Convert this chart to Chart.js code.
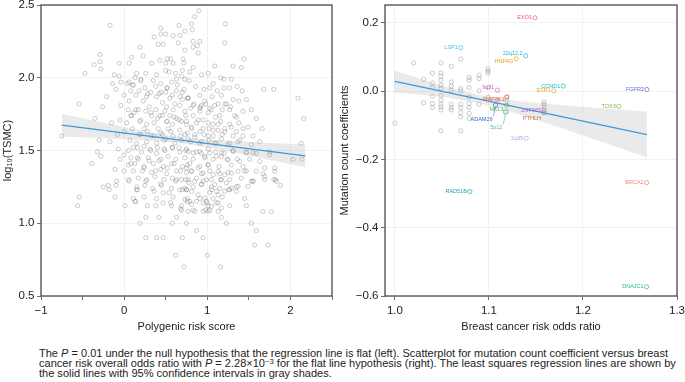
<!DOCTYPE html>
<html>
<head>
<meta charset="utf-8">
<script src="https://cdn.jsdelivr.net/npm/chart.js@4.4.0/dist/chart.umd.min.js"></script>
<style>
  body { margin: 0; background: #fff; width: 685px; height: 382px; overflow: hidden; position: relative;
         font-family: "Liberation Sans", Arial, sans-serif; }
  #left { position: absolute; left: 0; top: 0; width: 340px; height: 334px; }
  #right { position: absolute; left: 337px; top: 0; width: 348px; height: 334px; }
  #caption { position: absolute; left: 39px; top: 348.5px; font-size: 10px; line-height: 10px;
             color: #222; white-space: nowrap; transform-origin: 0 0; }
  #caption sup { font-size: 7px; line-height: 0; vertical-align: 3px; }
</style>
</head>
<body>
<div id="left"><canvas id="prsChart"></canvas></div>
<div id="right"><canvas id="orChart"></canvas></div>
<div id="caption"><span id="capLine1">The <i>P</i> = 0.01 under the null hypothesis that the regression line is flat (left). Scatterplot for mutation count coefficient versus breast</span><br>cancer risk overall odds ratio with <i>P</i> = 2.28×10<sup>−3</sup> for the flat line hypothesis (right). The least squares regression lines are shown by<br>the solid lines with 95% confidence intervals in gray shades.</div>
<script>
// left panel: polygenic risk score vs log10(TSMC), one pair per patient
const prsVsTsmc = [
  [0.90,2.46],[-0.17,2.36],[0.85,2.42],[1.22,2.37],[0.66,2.36],[0.81,2.37],[0.44,2.34],[0.82,2.33],[0.73,2.32],[0.50,2.30],
  [0.44,2.30],[0.36,2.28],[0.59,2.29],[0.67,2.29],[0.91,2.25],[0.83,2.25],[0.65,2.24],[1.21,2.24],[0.41,2.23],[0.47,2.23],
  [0.19,2.21],[0.88,2.22],[0.83,2.21],[0.73,2.19],[-0.29,2.16],[0.23,2.15],[0.89,2.17],[0.52,2.13],[0.56,2.13],[0.09,2.14],
  [1.44,2.13],[0.71,2.13],[0.43,2.12],
  [-0.36,2.09],[-0.29,2.11],[-0.06,2.10],[0.06,2.10],[0.33,2.10],[0.50,2.10],[0.59,2.10],[0.72,2.10],[1.09,2.08],[1.31,2.08],
  [1.41,2.07],[-0.28,2.06],[-0.47,2.03],[0.83,2.07],[0.50,2.05],[0.54,2.04],[0.62,2.03],[0.70,2.05],[1.01,2.03],[-0.12,2.02],
  [-0.06,2.01],[0.26,2.03],[0.39,2.02],[0.79,2.04],[0.93,2.02],[1.16,2.00],[1.20,1.99],[1.29,1.99],[0.13,2.00],[0.15,2.03],
  [0.69,2.01],[0.73,1.99],[0.63,1.99],[0.35,1.98],
  [-0.14,1.96],[-0.04,1.97],[0.06,1.97],[0.11,1.95],[0.20,1.99],[0.25,1.93],[0.44,1.96],[0.51,1.93],[0.57,1.97],[0.78,1.98],
  [0.86,1.94],[1.07,1.96],[1.20,1.93],[1.27,1.93],[1.36,1.94],[1.42,1.91],[1.68,1.92],[1.80,1.92],[-0.10,1.92],[0.08,1.91],
  [0.18,1.91],[0.32,1.90],[0.42,1.89],[0.50,1.90],[0.63,1.91],[0.72,1.92],[0.96,1.92],[1.03,1.93],[1.12,1.91],[-0.21,1.87],
  [0.00,1.88],[0.14,1.88],[0.27,1.87],[0.39,1.87],[0.55,1.86],[0.67,1.87],[0.77,1.86],[0.91,1.88],[1.06,1.87],[1.17,1.88],
  [1.31,1.85],[1.47,1.85],[1.38,1.84],[2.09,1.86],[0.06,1.84],[0.23,1.84],[0.46,1.83],[0.61,1.82],[0.70,1.85],[0.84,1.82],
  [0.93,1.81],[0.98,1.82],[1.13,1.82],[1.23,1.82],[-0.54,1.82],[-0.26,1.80],[-0.04,1.81],[0.30,1.80],[0.51,1.80],[0.67,1.81],
  [0.05,1.78],[0.17,1.78],[0.26,1.77],[0.38,1.78],[0.49,1.77],[0.59,1.78],[0.73,1.77],[0.80,1.79],[0.91,1.79],[0.92,1.80],
  [1.05,1.78],[1.18,1.78],[1.28,1.80],[1.43,1.77],[1.53,1.78],[0.09,1.74],[0.12,1.76],[0.33,1.74],[0.43,1.74],[0.55,1.74],
  [0.63,1.72],[0.83,1.74],[1.01,1.76],[1.10,1.73],[1.35,1.73],[1.59,1.72],[-0.35,1.72],[2.16,1.72],[-0.15,1.69],[-0.05,1.71],
  [0.03,1.69],[0.19,1.70],[0.27,1.68],[0.36,1.69],[0.51,1.70],[0.58,1.68],[0.69,1.70],[0.75,1.68],[0.87,1.69],[0.95,1.71],
  [1.07,1.68],[1.16,1.70],[1.27,1.68],[1.38,1.69],[1.49,1.66],[1.66,1.65],[0.10,1.65],[0.24,1.65],[0.41,1.65],[0.53,1.65],
  [0.67,1.64],[0.81,1.65],[0.91,1.63],[1.02,1.65],[1.13,1.64],[1.21,1.65],[1.35,1.63],[1.43,1.60],[0.00,1.63],[-0.08,1.61],
  [0.18,1.61],[0.33,1.60],[0.46,1.61],[0.59,1.60],[0.73,1.61],[0.85,1.59],[0.96,1.61],[1.07,1.60],[1.18,1.61],[1.31,1.60],
  [1.55,1.60],[-0.75,1.60],[-0.30,1.57],[-0.17,1.56],
  [0.07,1.57],[0.15,1.55],[0.27,1.56],[0.39,1.55],[0.48,1.57],[0.61,1.55],[0.69,1.57],[0.80,1.56],[0.91,1.55],[1.02,1.57],
  [1.11,1.55],[1.27,1.55],[1.39,1.57],[1.63,1.56],[2.13,1.55],[-0.32,1.49],[-0.28,1.46],[-0.39,1.41],[-0.07,1.51],[0.05,1.50],
  [0.11,1.52],[0.21,1.49],[0.31,1.51],[0.39,1.48],[0.49,1.50],[0.58,1.52],[0.67,1.49],[0.75,1.51],[0.87,1.49],[0.93,1.48],
  [1.01,1.51],[1.10,1.49],[1.20,1.48],[1.31,1.50],[1.47,1.49],[1.59,1.48],[1.75,1.49],[-0.05,1.44],[0.08,1.45],[0.17,1.44],
  [0.29,1.45],[0.42,1.43],[0.53,1.46],[0.62,1.44],[0.73,1.45],[0.83,1.44],[0.97,1.45],[1.07,1.44],[1.17,1.46],[1.24,1.44],
  [1.36,1.44],[1.51,1.44],[2.03,1.44],[2.14,1.44],[0.05,1.40],[0.13,1.41],[0.24,1.39],[0.35,1.41],[0.47,1.39],[0.57,1.41],
  [0.70,1.39],[0.79,1.41],[0.91,1.39],[1.01,1.40],[1.14,1.39],[1.29,1.40],[1.43,1.39],[1.81,1.38],
  [-0.11,1.37],[0.00,1.36],[0.11,1.36],[0.22,1.36],[0.33,1.35],[0.44,1.37],[0.51,1.34],[0.63,1.36],[0.75,1.35],[0.81,1.36],
  [0.93,1.34],[1.03,1.36],[1.15,1.34],[1.25,1.35],[1.47,1.36],[1.67,1.34],[1.80,1.30],[1.82,1.30],[0.05,1.30],[-0.09,1.29],
  [0.17,1.31],[0.27,1.30],[0.37,1.32],[0.48,1.30],[0.58,1.31],[0.63,1.30],[0.69,1.30],[0.74,1.30],[0.87,1.31],[0.95,1.29],
  [1.05,1.30],[1.16,1.30],[1.27,1.30],[1.41,1.31],[1.55,1.29],[1.69,1.30],[-0.19,1.26],[-0.25,1.25],[-0.10,1.26],[0.15,1.25],
  [0.25,1.26],[0.34,1.24],[0.45,1.26],[0.57,1.24],[0.67,1.23],[0.73,1.24],[0.83,1.25],[0.93,1.27],[1.05,1.25],[1.15,1.24],
  [1.26,1.23],[1.35,1.25],[1.88,1.26],[-0.18,1.23],[0.15,1.23],[0.47,1.21],[0.75,1.23],[1.03,1.21],[1.11,1.22],
  [-0.54,1.18],[-0.11,1.18],[0.11,1.17],[0.24,1.18],[0.39,1.17],[0.59,1.18],[0.76,1.17],[0.91,1.17],[1.07,1.17],[1.18,1.18],
  [1.45,1.17],[-0.56,1.12],[0.01,1.12],[0.13,1.15],[0.28,1.12],[0.47,1.14],[0.57,1.12],[0.69,1.12],[0.81,1.13],[1.00,1.14],
  [1.01,1.12],[1.13,1.14],[1.27,1.12],[1.47,1.12],[0.69,1.09],[0.83,1.09],[0.98,1.09],[1.03,1.09],[1.67,1.08],[1.77,1.08],
  [0.19,1.00],[0.26,1.04],[0.42,1.04],[0.58,1.00],[0.63,1.04],[0.75,1.00],[1.17,1.04],[1.23,1.00],[1.53,1.00],
  [0.87,0.95],[1.59,0.95],[0.26,0.90],[0.39,0.90],[0.47,0.90],[0.70,0.90],[0.95,0.90],[1.57,0.85],[1.73,0.85],[0.62,0.78],
  [1.00,0.78],[0.72,0.70],[1.16,0.70],
  // denser core, read from close-ups
  [0.04,1.96],[0.10,1.95],[0.20,1.98],[0.28,1.89],[0.38,1.94],[0.44,1.90],[0.52,1.93],[0.58,1.88],[0.64,1.95],[0.70,1.90],
  [0.76,1.86],[0.08,1.74],[0.14,1.78],[0.20,1.71],[0.32,1.76],[0.40,1.72],[0.46,1.74],[0.52,1.70],[0.60,1.73],[0.66,1.71],
  [0.74,1.74],[0.20,1.61],[0.28,1.63],[0.36,1.60],[0.44,1.62],[0.50,1.58],[0.56,1.63],[0.68,1.60],[0.76,1.62],[0.16,1.52],
  [0.24,1.53],[0.32,1.50],[0.40,1.52],[0.48,1.51],[0.58,1.52],[0.66,1.52],[0.74,1.50],
  [0.77,1.86],[0.83,1.81],[0.91,1.77],[0.97,1.84],[1.03,1.79],[1.09,1.81],[1.15,1.74],[1.21,1.82],[1.27,1.78],[1.33,1.74],
  [0.75,1.70],[0.81,1.66],[0.89,1.71],[0.95,1.65],[1.01,1.69],[1.07,1.64],[1.13,1.68],[1.21,1.63],[1.29,1.66],[1.43,1.65],
  [0.77,1.58],[0.85,1.61],[0.93,1.56],[1.01,1.60],[1.09,1.55],[1.17,1.58],[1.25,1.54],[1.37,1.56],[1.53,1.54],
  [0.00,1.47],[0.08,1.41],[0.16,1.45],[0.24,1.38],[0.30,1.43],[0.38,1.36],[0.44,1.44],[0.52,1.38],[0.60,1.41],[0.68,1.36],
  [0.76,1.40],[0.06,1.29],[0.16,1.23],[0.26,1.29],[0.36,1.22],[0.44,1.27],[0.54,1.21],[0.62,1.29],[0.70,1.23],[0.78,1.28],
  [0.14,1.15],[0.38,1.12],[0.56,1.14],[0.68,1.10],[0.76,1.15],
  [0.77,1.494],[0.83,1.483],[0.91,1.494],[0.97,1.460],[1.03,1.483],[1.11,1.460],[1.17,1.483],[1.25,1.437],[1.31,1.494],
  [1.39,1.425],[1.47,1.483],[1.55,1.483],[1.63,1.425],[1.69,1.380],[1.75,1.471],[1.81,1.357],
  [0.75,1.380],[0.81,1.357],[0.89,1.380],[0.95,1.345],[1.01,1.403],[1.07,1.334],[1.13,1.357],[1.21,1.334],[1.29,1.345],
  [1.37,1.357],[1.45,1.357],[1.53,1.288],[1.59,1.357],[1.69,1.322],[1.83,1.288],
  [0.77,1.299],[0.85,1.288],[0.93,1.265],[0.99,1.299],[1.09,1.265],[1.17,1.299],[1.23,1.277],[1.29,1.242],[1.37,1.254],
  [1.49,1.254],[1.55,1.288],[0.75,1.231],[0.81,1.219],[0.89,1.196],[0.97,1.173],[1.05,1.231],[1.13,1.196],[1.21,1.219],
  [1.27,1.231],[1.35,1.219],[0.73,1.162],[0.79,1.151],[0.87,1.151],[0.95,1.139],[0.99,1.151],[1.05,1.116],[1.11,1.139],
  [1.17,1.105],[0.77,1.082],[0.85,1.082],[0.95,1.082],[1.01,1.082],[1.13,1.082]
];
const prsFitX = [-0.75, 2.18];
const prsFitY = [1.674, 1.463];
const prsBandX = [-0.75, -0.25, 0.25, 0.7, 1.2, 1.7, 2.18];
const prsBandUpper = [1.752, 1.691, 1.633, 1.590, 1.568, 1.554, 1.541];
const prsBandLower = [1.596, 1.585, 1.571, 1.550, 1.500, 1.442, 1.385];
const prsXTicks = [-1, -0.5, 0, 0.5, 1, 1.5, 2, 2.5];
const prsYTicks = [0.5, 1.0, 1.5, 2.0, 2.5];

// right panel: odds ratio vs mutation count coefficient
const otherLoci = [
  [1.000,-0.094],[1.020,0.083],[1.0305,0.035],[1.0305,-0.034],[1.040,0.052],[1.040,0.024],[1.040,0.011],[1.040,-0.015],
  [1.040,-0.036],[1.040,-0.048],[1.049,0.083],[1.049,0.054],[1.049,0.044],[1.049,0.032],[1.049,0.018],[1.049,0.008],
  [1.049,-0.012],[1.049,-0.026],[1.049,-0.038],[1.049,-0.046],[1.049,-0.055],[1.049,-0.116],[1.060,0.073],[1.060,0.027],
  [1.060,0.015],[1.060,0.003],[1.060,-0.038],[1.060,-0.048],[1.060,-0.055],[1.070,0.094],[1.070,0.008],[1.070,0.001],
  [1.070,-0.038],[1.070,-0.048],[1.070,-0.063],[1.070,-0.075],[1.070,-0.116],[1.079,0.040],[1.079,0.032],[1.079,0.011],
  [1.079,-0.017],[1.079,-0.036],[1.079,-0.048],[1.079,-0.065],[1.079,-0.080],[1.0895,0.047],[1.0895,0.037],[1.0895,0.001],
  [1.0895,-0.038],[1.099,0.066],[1.099,0.059],[1.099,0.054],[1.099,0.011],[1.099,-0.017],[1.109,-0.026],[1.119,-0.017],
  [1.119,-0.026],[1.119,-0.060],[1.1586,-0.031],[1.1586,-0.038],[1.1586,-0.046]
];
const geneNames = ["EXO1", "LSP1", "22q12.2", "HNF4G", "CCND1", "ESR1", "FGFR2", "TOX3", "9q31", "MAP3K1",
                   "MKL1", "ZNF365", "PTHLH", "ADAM29", "5p12", "2q35", "RAD51B", "BRCA2", "DNAJC1"];
const geneOR = [1.149, 1.070, 1.139, 1.129, 1.179, 1.169, 1.268, 1.238, 1.109, 1.119,
                1.119, 1.1586, 1.1586, 1.107, 1.1175, 1.1396, 1.0797, 1.2677, 1.2677];
const geneCoef = [0.215, 0.1275, 0.104, 0.095, 0.015, 0.001, 0.005, -0.044, 0.003, -0.017,
                  -0.041, -0.0555, -0.063, -0.041, -0.061, -0.138, -0.294, -0.268, -0.573];
const orFitX = [1.0, 1.268];
const orFitY = [0.029, -0.127];
const orBandX = [0.999, 1.05, 1.09, 1.13, 1.18, 1.23, 1.268];
const orBandUpper = [0.061, 0.016, -0.011, -0.029, -0.041, -0.052, -0.060];
const orBandLower = [-0.003, -0.016, -0.035, -0.065, -0.111, -0.158, -0.194];
const orXTicks = [1.0, 1.1, 1.2, 1.3];
const orYTicks = [-0.6, -0.4, -0.2, 0.0, 0.2];

// colours and label nudges (px) for the gene labels
const geneColors = ["#ef4f9b", "#35c6ea", "#1bb3d6", "#e3a812", "#14b9b0", "#f0a03a", "#5a68d8", "#78b847", "#dd58d6", "#ec5d3c",
                    "#55b64c", "#9a70dc", "#d6654c", "#3a68c6", "#4bc099", "#b2a4e4", "#2aa0b0", "#f0837a", "#22be7a"];
const labelNudge = { "22q12.2": [0, -2.7], "HNF4G": [0, 2.4], "9q31": [0, -3], "MAP3K1": [1, 2.3], "MKL1": [0, 4.3],
                     "PTHLH": [0, 6], "ADAM29": [0, 14], "5p12": [0, 15.5] };
const leaderLines = ["ADAM29", "5p12"];

// stretch the caption so its first line spans the same width as in the figure
const capEl = document.getElementById("caption");
const capWidth = document.getElementById("capLine1").getBoundingClientRect().width;
capEl.style.transform = "scaleX(" + (629 / capWidth) + ")";

Chart.defaults.font.family = '"Liberation Sans", Arial, sans-serif';
Chart.defaults.color = "#222";

const pairs = (xs, ys) => xs.map((x, i) => ({ x: x, y: ys[i] }));
const minus = (s) => s.replace("-", "\u2212");

const framePlugin = {
  id: "frame",
  afterDatasetsDraw(chart) {
    const { ctx, chartArea: a } = chart;
    ctx.save();
    ctx.strokeStyle = "#4a4a4a";
    ctx.lineWidth = 1.3;
    ctx.strokeRect(a.left, a.top, a.right - a.left, a.bottom - a.top);
    ctx.restore();
  }
};

const geneLabelPlugin = {
  id: "geneLabels",
  afterDatasetsDraw(chart) {
    const { ctx } = chart;
    const xs = chart.scales.x, ys = chart.scales.y;
    ctx.save();
    ctx.font = '5.5px "Liberation Sans", Arial, sans-serif';
    ctx.textAlign = "right";
    ctx.textBaseline = "middle";
    geneNames.forEach((name, i) => {
      const px = xs.getPixelForValue(geneOR[i]);
      const py = ys.getPixelForValue(geneCoef[i]);
      const nudge = labelNudge[name] || [0, 0];
      const tx = px - 3 + nudge[0];
      const ty = py + nudge[1];
      ctx.fillStyle = geneColors[i];
      ctx.fillText(name, tx, ty);
      if (leaderLines.includes(name)) {
        ctx.strokeStyle = geneColors[i];
        ctx.lineWidth = 0.6;
        ctx.beginPath();
        ctx.moveTo(px, py + 2);
        ctx.lineTo(px - 2, ty - 3);
        ctx.stroke();
      }
    });
    ctx.restore();
  }
};

function axis(min, max, ticks, labelFn, gridFn, title, fitSize, horizontal) {
  return {
    type: "linear",
    min: min,
    max: max,
    afterBuildTicks: (scale) => { scale.ticks = ticks.map((v) => ({ value: v })); },
    afterFit: (scale) => {
      if (horizontal) { scale.height = fitSize; scale.paddingLeft = 0; scale.paddingRight = 0; }
      else { scale.width = fitSize; scale.paddingTop = 0; scale.paddingBottom = 0; }
    },
    border: { display: false },
    grid: {
      color: (c) => (gridFn(c.tick.value) ? "#efefef" : "rgba(0,0,0,0)"),
      lineWidth: 0.8,
      tickColor: "#4a4a4a",
      tickLength: 4,
      drawTicks: true
    },
    ticks: {
      autoSkip: false,
      maxRotation: 0,
      padding: horizontal ? 4 : 2.5,
      color: "#222",
      font: { size: 11.5 },
      callback: (v) => labelFn(v)
    },
    title: {
      display: true,
      text: title,
      color: "#222",
      font: { size: 11 },
      padding: horizontal ? { top: 0, bottom: 0 } : { top: 1.4, bottom: 0 }
    }
  };
}

const bandStyle = { type: "line", borderWidth: 0, pointRadius: 0, backgroundColor: "rgba(150,150,150,0.2)" };
const fitStyle = { type: "line", borderColor: "#3d9ad8", borderWidth: 1.3, pointRadius: 0, fill: false };
const dotStyle = { pointRadius: 2.1, pointBorderWidth: 0.7, pointBackgroundColor: "rgba(0,0,0,0)",
                   pointBorderColor: "rgba(95,95,95,0.45)", showLine: false };

new Chart(document.getElementById("prsChart"), {
  type: "scatter",
  data: {
    datasets: [
      Object.assign({ data: pairs(prsFitX, prsFitY) }, fitStyle),
      Object.assign({ data: pairs(prsBandX, prsBandUpper), fill: "+1" }, bandStyle),
      Object.assign({ data: pairs(prsBandX, prsBandLower), fill: false }, bandStyle),
      Object.assign({ data: prsVsTsmc.map((p) => ({ x: p[0], y: p[1] })) }, dotStyle)
    ]
  },
  options: {
    animation: false,
    responsive: true,
    maintainAspectRatio: false,
    layout: { padding: { top: 5, right: 8, left: 0, bottom: 0 } },
    scales: {
      x: axis(-1, 2.5, prsXTicks, (v) => (Number.isInteger(v) && v < 2.5 ? minus(String(v)) : ""),
               (v) => Number.isInteger(v), "Polygenic risk score", 38, true),
      y: axis(0.5, 2.5, prsYTicks, (v) => v.toFixed(1), () => true, "log\u2081\u2080(TSMC)", 41, false)
    },
    plugins: { legend: { display: false }, tooltip: { enabled: false } }
  },
  plugins: [framePlugin]
});

new Chart(document.getElementById("orChart"), {
  type: "scatter",
  data: {
    datasets: [
      Object.assign({ data: pairs(orFitX, orFitY) }, fitStyle),
      Object.assign({ data: pairs(geneOR, geneCoef) }, dotStyle, { pointBorderColor: geneColors }),
      Object.assign({ data: pairs(orBandX, orBandUpper), fill: "+1" }, bandStyle),
      Object.assign({ data: pairs(orBandX, orBandLower), fill: false }, bandStyle),
      Object.assign({ data: otherLoci.map((p) => ({ x: p[0], y: p[1] })) }, dotStyle)
    ]
  },
  options: {
    animation: false,
    responsive: true,
    maintainAspectRatio: false,
    layout: { padding: { top: 5, right: 8, left: 0, bottom: 0 } },
    scales: {
      x: axis(0.9895, 1.3, orXTicks, (v) => v.toFixed(1), () => true, "Breast cancer risk odds ratio", 38, true),
      y: axis(-0.6, 0.2525, orYTicks, (v) => minus(v.toFixed(1)), () => true, "Mutation count coefficients", 48, false)
    },
    plugins: { legend: { display: false }, tooltip: { enabled: false } }
  },
  plugins: [framePlugin, geneLabelPlugin]
});
</script>
</body>
</html>
